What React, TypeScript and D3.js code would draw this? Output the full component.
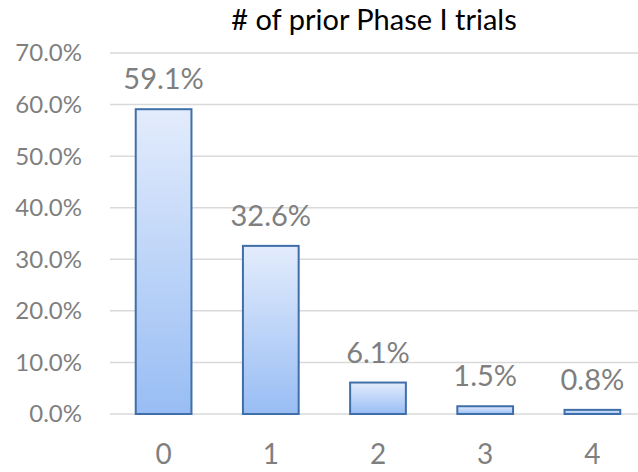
import * as d3 from "d3";
import React from "react";

const categories = ["0", "1", "2", "3", "4"];
const values = [59.1, 32.6, 6.1, 1.5, 0.8];
const yTicks = [0, 10, 20, 30, 40, 50, 60, 70];
const title = "# of prior Phase I trials";

export default function App() {
  const svgWidth = 638;
  const svgHeight = 472;
  const margin = { top: 53, right: -8, bottom: 58, left: 110 };
  const w = svgWidth - margin.left - margin.right;
  const h = svgHeight - margin.top - margin.bottom;

  const x = d3.scaleBand()
    .domain(categories)
    .range([0, w])
    .paddingInner(0.48)
    .paddingOuter(0.24);

  const y = d3.scaleLinear().domain([0, 70]).range([h, 0]);

  const font = "Lato, 'Open Sans', sans-serif";
  const grey = "#7f7f7f";

  return (
    <svg width={svgWidth} height={svgHeight} style={{ position: "absolute", left: 0, top: 0 }}>
      <defs>
        <linearGradient id="barGrad" x1="0" y1="0" x2="0" y2="1">
          <stop offset="0%" stopColor="#e3ecfc" />
          <stop offset="100%" stopColor="#98bdf4" />
        </linearGradient>
      </defs>
      <rect width={svgWidth} height={svgHeight} fill="#fff" />
      <text x={374} y={30} textAnchor="middle" fontFamily={font} fontSize={29} fill="#000">{title}</text>
      <g transform={`translate(${margin.left},${margin.top})`}>
        {yTicks.map((t) => (
          <g key={t}>
            <line x1={0} x2={w} y1={y(t)} y2={y(t)} stroke="#d9d9d9" strokeWidth={1.5} />
            <text x={-28} y={y(t)} dy="0.35em" textAnchor="end" fontFamily={font} fontSize={24} fill={grey}>
              {t.toFixed(1) + "%"}
            </text>
          </g>
        ))}
        {categories.map((c, i) => {
          const bx = x(c)!;
          const by = y(values[i]);
          return (
            <g key={c}>
              <rect x={bx} y={by} width={x.bandwidth()} height={h - by}
                fill="url(#barGrad)" stroke="#3f6ea8" strokeWidth={2} />
              <text x={bx + x.bandwidth() / 2} y={by - 20} textAnchor="middle" fontFamily={font} fontSize={29} fill={grey}>
                {values[i].toFixed(1) + "%"}
              </text>
              <text x={bx + x.bandwidth() / 2} y={h + 50} textAnchor="middle" fontFamily={font} fontSize={28} fill={grey}>
                {c}
              </text>
            </g>
          );
        })}
      </g>
    </svg>
  );
}
